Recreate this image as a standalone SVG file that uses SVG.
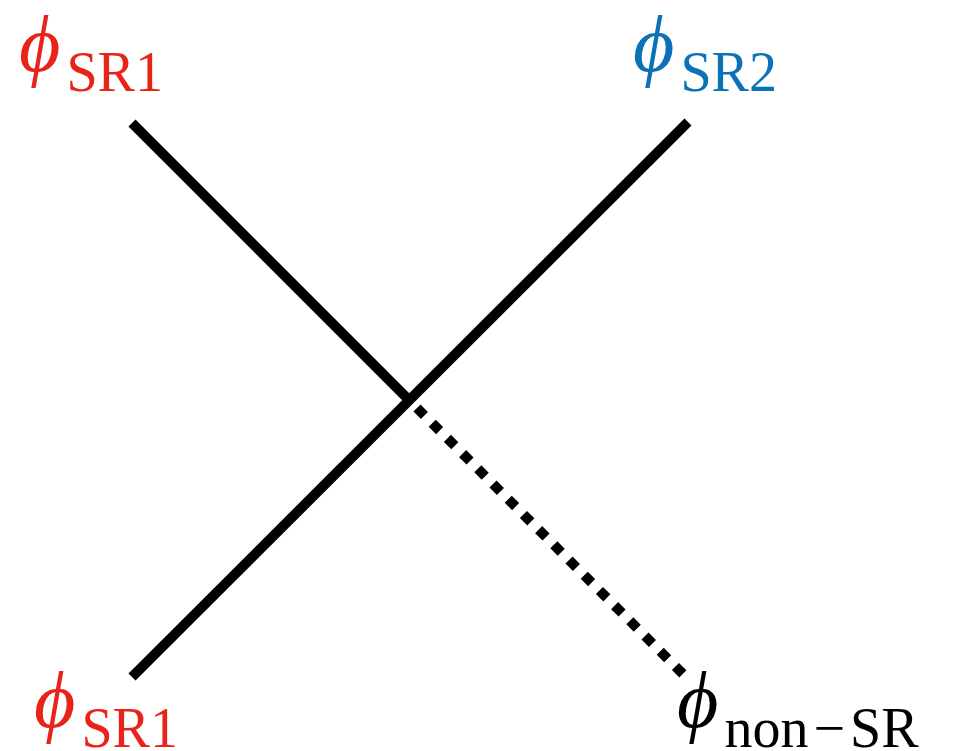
<svg xmlns="http://www.w3.org/2000/svg" width="956" height="751" viewBox="0 0 956 751">
<style>
.phi{font-family:"Liberation Serif","DejaVu Serif","Times New Roman",serif;font-style:italic;font-size:80px}
.sub{font-family:"Liberation Serif","Times New Roman",serif;font-style:normal;font-size:56px}
.red{fill:#e8231a}
.blue{fill:#0b72b8}
.blk{fill:#000}
.solid{stroke:#000;stroke-width:10;fill:none}
.dot{stroke:#000;stroke-width:10;fill:none;stroke-dasharray:10.5 11}
</style>
<rect width="956" height="751" fill="#fff"/>
<g id="connectors">
<line class="solid" x1="132" y1="123" x2="409" y2="400"/>
<line class="solid" x1="688" y1="122" x2="132" y2="677"/>
<line class="dot" x1="417" y1="408" x2="686" y2="677"/>
</g>
<g id="n-sr1-top"><text x="19" y="71" class="red"><tspan class="phi">ϕ</tspan><tspan class="sub" dy="20" dx="6">SR1</tspan></text></g>
<g id="n-sr2-top"><text x="633" y="71" class="blue"><tspan class="phi">ϕ</tspan><tspan class="sub" dy="20" dx="6">SR2</tspan></text></g>
<g id="n-sr1-bottom"><text x="34" y="727" class="red"><tspan class="phi">ϕ</tspan><tspan class="sub" dy="20" dx="6">SR1</tspan></text></g>
<g id="n-nonsr"><text x="677" y="727" class="blk"><tspan class="phi">ϕ</tspan><tspan class="sub" dy="20" dx="6">non</tspan><tspan class="sub" dx="5">−</tspan><tspan class="sub" dx="5">SR</tspan></text></g>
</svg>
